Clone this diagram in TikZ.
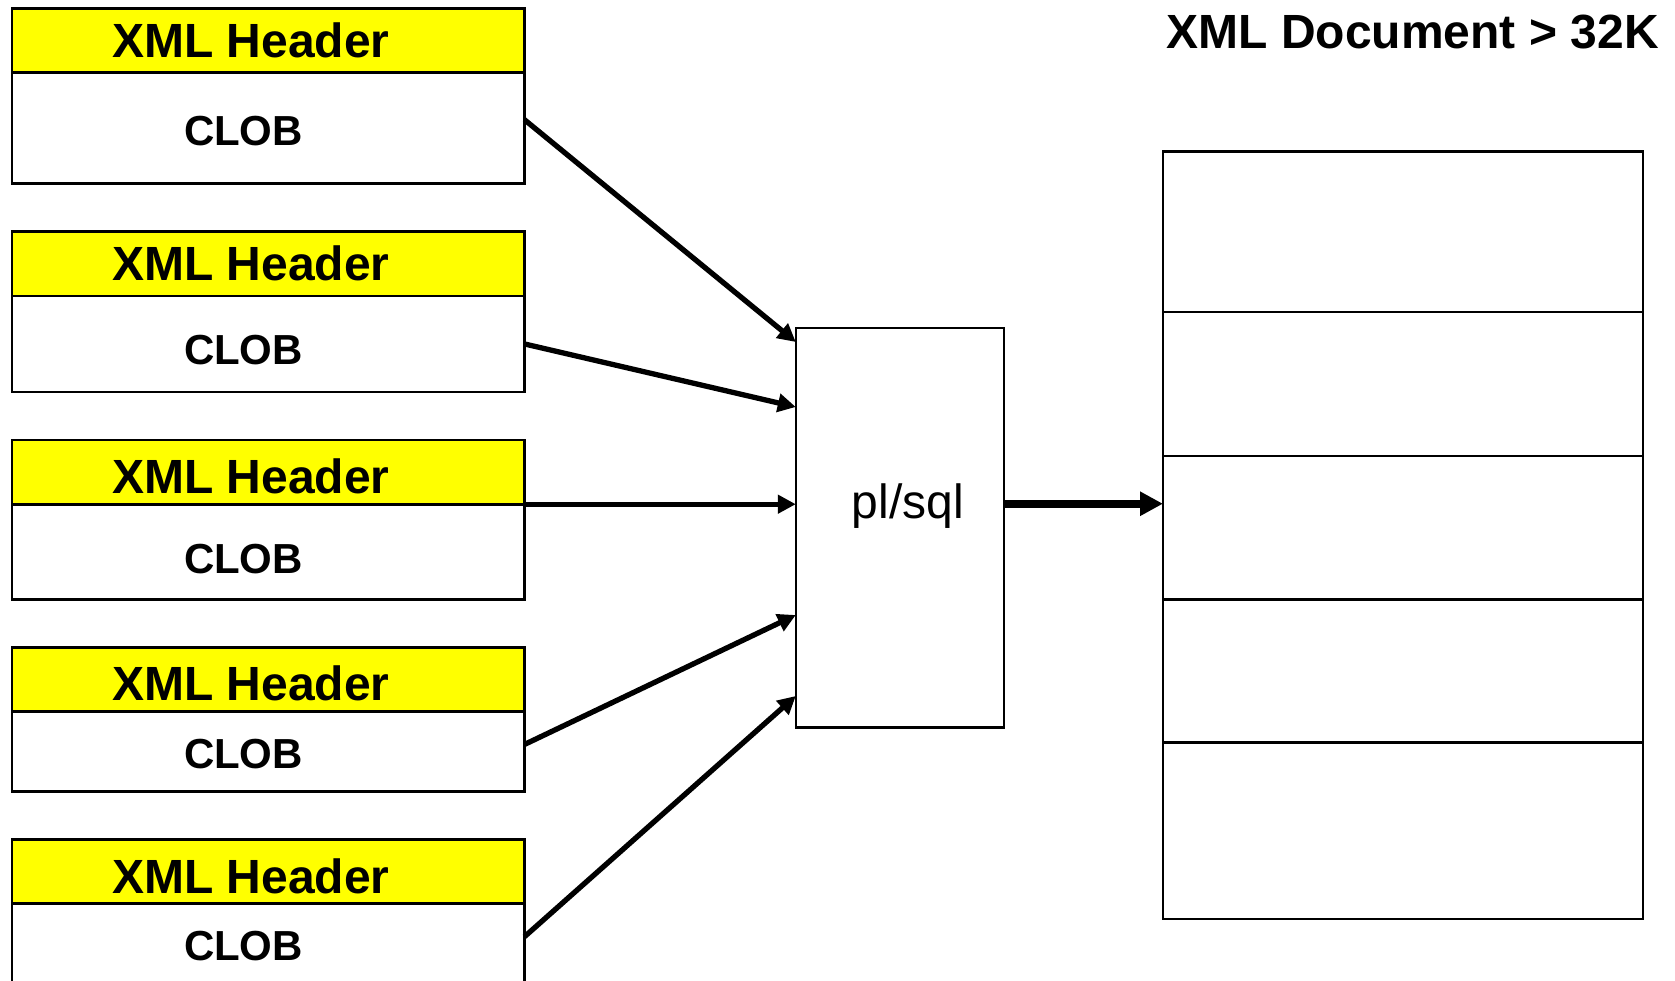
\documentclass[tikz,border=0pt]{standalone}
\usepackage{fontspec}
\setmainfont{Liberation Sans}
\usetikzlibrary{arrows.meta}
\definecolor{hdryellow}{HTML}{FFFF00}
\tikzset{
  box/.style={draw=black, line width=2.6pt, rectangle, inner sep=0pt, outer sep=0pt, anchor=north west, minimum width=512.5pt},
  hdrbox/.style={box, fill=hdryellow},
  clobbox/.style={box, fill=white},
  hdrtext/.style={inner sep=0pt, font=\fontsize{48}{48}\selectfont\bfseries},
  clobtext/.style={inner sep=0pt, font=\fontsize{42}{42}\selectfont\bfseries},
  arr/.style={line width=5.3pt, -{Triangle[length=18pt,width=18pt]}},
  bigarr/.style={line width=8pt, -{Triangle[length=23pt,width=23pt]}},
  docbox/.style={draw=black, line width=2.4pt, rectangle, inner sep=0pt, outer sep=0pt, anchor=north west, minimum width=480pt},
}
\begin{document}
\begin{tikzpicture}[x=1pt,y=-1pt]
\useasboundingbox (0,0) rectangle (1675,981);
\fill[white] (0,0) rectangle (1675,981);
\clip (0,0) rectangle (1675,981);
% left stacks
\node[hdrbox, minimum height=64.1pt] (h1) at (12,8.5) {};
\node[clobbox, minimum height=111.1pt] (c1) at (12,72.6) {};
\node[hdrbox, minimum height=64.1pt] (h2) at (12,231.8) {};
\node[clobbox, minimum height=96.1pt] (c2) at (12,295.9) {};
\node[hdrbox, minimum height=64.2pt] (h3) at (12,440) {};
\node[clobbox, minimum height=95.1pt] (c3) at (12,504.2) {};
\node[hdrbox, minimum height=64.1pt] (h4) at (12,647.3) {};
\node[clobbox, minimum height=80.1pt] (c4) at (12,711.4) {};
\node[hdrbox, minimum height=64.1pt] (h5) at (12,839.6) {};
\node[clobbox, minimum height=110pt] (c5) at (12,903.7) {};
% texts
\node[hdrtext] (t1) at (251,40.5) {XML Header};
\node[clobtext] (l1) at (243.5,131.4) {CLOB};
\node[hdrtext] (t2) at (251,263) {XML Header};
\node[clobtext] (l2) at (243.5,350.4) {CLOB};
\node[hdrtext] (t3) at (251,476.4) {XML Header};
\node[clobtext] (l3) at (243.5,558.7) {CLOB};
\node[hdrtext] (t4) at (251,683.6) {XML Header};
\node[clobtext] (l4) at (243.5,754) {CLOB};
\node[hdrtext] (t5) at (251,876) {XML Header};
\node[clobtext] (l5) at (243.5,946.4) {CLOB};
% pl/sql box
\node[draw=black, line width=2.6pt, rectangle, inner sep=0pt, outer sep=0pt, anchor=north west, minimum width=208.3pt, minimum height=399.5pt] (p) at (795.8,328) {};
\node[inner sep=0pt, anchor=base, font=\fontsize{48}{48}\selectfont] (pt) at (908,518) {pl/sql};
% document box
\node[docbox, minimum height=160.2pt] (r1) at (1163,151.7) {};
\node[docbox, minimum height=144.2pt] (r2) at (1163,311.9) {};
\node[docbox, minimum height=143.2pt] (r3) at (1163,456.1) {};
\node[docbox, minimum height=143.1pt] (r4) at (1163,599.3) {};
\node[docbox, minimum height=176.3pt] (r5) at (1163,742.4) {};
\node[inner sep=0pt, font=\fontsize{48}{48}\selectfont\bfseries] (title) at (1412.7,32) {XML Document > 32K};
% connectors
\draw[arr] ([yshift=8.4pt]c1.east) -- ([yshift=-14pt]p.north west);
\draw[arr] (c2.east) -- ([yshift=-79pt]p.north west);
\draw[arr] (h3.south east) -- (h3.south east -| p.west);
\draw[arr] ([yshift=7pt]c4.east) -- ([yshift=112.5pt]p.south west);
\draw[arr] ([yshift=-33pt]c5.north east) -- ([yshift=31.5pt]p.south west);
\draw[bigarr] ([yshift=24pt]p.east) -- ([yshift=24pt]p.east -| r3.west);
\end{tikzpicture}
\end{document}
